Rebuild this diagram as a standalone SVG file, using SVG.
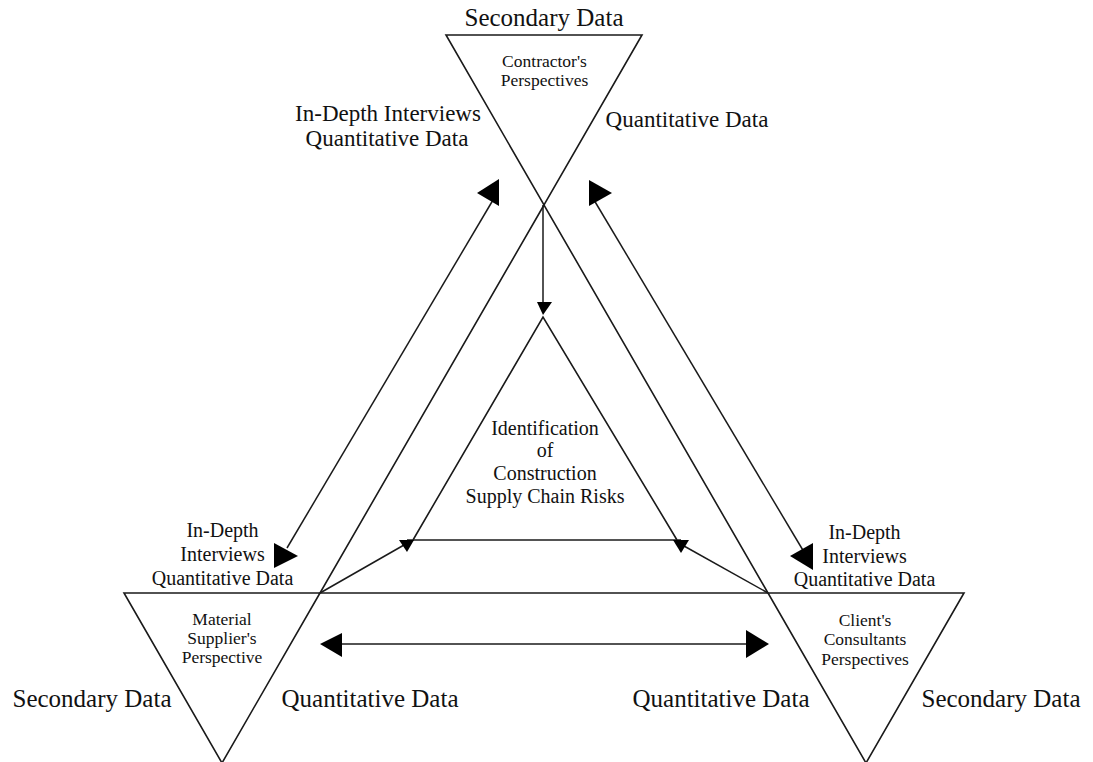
<svg xmlns="http://www.w3.org/2000/svg" width="1093" height="762" viewBox="0 0 1093 762">
  <style>
    .edge { fill: none; stroke: #1a1a1a; stroke-width: 1.6; stroke-linejoin: miter; }
    .conn { fill: none; stroke: #1a1a1a; stroke-width: 1.5; }
    .head { fill: #000; stroke: none; }
    text { font-family: "Liberation Serif", "Times New Roman", serif; fill: #111; text-anchor: middle; }
    .big { font-size: 25px; }
    .mid { font-size: 23px; }
    .core { font-size: 20px; }
    .small { font-size: 17.5px; }
  </style>
  <rect width="1093" height="762" fill="#fff"/>

  <!-- outer frame formed by the extended triangle sides -->
  <g id="frame">
    <polygon class="edge" points="544,205 320,593 768,593"/>
  </g>

  <!-- contractor node: inverted triangle at the top -->
  <g id="node-contractor">
    <polygon class="edge" points="446,35 642,35 544,205"/>
    <text class="big" x="544" y="26">Secondary Data</text>
    <text class="small" x="544.5" y="67">Contractor's</text>
    <text class="small" x="544.5" y="86">Perspectives</text>
    <text class="mid" x="687" y="127">Quantitative Data</text>
    <text class="mid" x="388" y="121">In-Depth Interviews</text>
    <text class="mid" x="387" y="146">Quantitative Data</text>
  </g>

  <!-- material supplier node: inverted triangle bottom left -->
  <g id="node-supplier">
    <polygon class="edge" points="124,593 320,593 222,763"/>
    <text class="small" x="222" y="625">Material</text>
    <text class="small" x="222" y="644">Supplier's</text>
    <text class="small" x="222" y="663">Perspective</text>
    <text class="big" x="92" y="707">Secondary Data</text>
    <text class="big" x="370" y="707">Quantitative Data</text>
    <text class="core" x="222.5" y="537">In-Depth</text>
    <text class="core" x="222.5" y="561">Interviews</text>
    <text class="core" x="222.5" y="585">Quantitative Data</text>
  </g>

  <!-- client's consultants node: inverted triangle bottom right -->
  <g id="node-client">
    <polygon class="edge" points="768,593 964,593 866,763"/>
    <text class="small" x="865" y="626">Client's</text>
    <text class="small" x="865" y="645">Consultants</text>
    <text class="small" x="865" y="665">Perspectives</text>
    <text class="big" x="721" y="707">Quantitative Data</text>
    <text class="big" x="1001" y="707">Secondary Data</text>
    <text class="core" x="864.5" y="539">In-Depth</text>
    <text class="core" x="864.5" y="563">Interviews</text>
    <text class="core" x="864.5" y="586">Quantitative Data</text>
  </g>

  <!-- central node: identification of supply chain risks -->
  <g id="node-risks">
    <polyline class="edge" points="413,540 543,317 677,540"/>
    <text class="core" x="545" y="435">Identification</text>
    <text class="core" x="545" y="457">of</text>
    <text class="core" x="545" y="480">Construction</text>
    <text class="core" x="545" y="503">Supply Chain Risks</text>
  </g>

  <!-- connectors -->
  <g id="connectors">
    <!-- contractor to centre -->
    <line class="conn" x1="543" y1="205" x2="543" y2="304"/>
    <polygon class="head" points="537,302 552,302 543,315"/>

    <!-- supplier to centre and client to centre, joined by the base -->
    <line class="conn" x1="407" y1="540" x2="681" y2="540"/>
    <line class="conn" x1="320" y1="593" x2="404" y2="545"/>
    <polygon class="head" points="399,540 414,540 407,552"/>
    <line class="conn" x1="768" y1="593" x2="684" y2="546"/>
    <polygon class="head" points="673,540 689,540 681,553"/>

    <!-- contractor to supplier, both ways -->
    <line class="conn" x1="493" y1="200" x2="287" y2="548"/>
    <polygon class="head" points="477,193 499,179 499,206"/>
    <polygon class="head" points="274,543 298,556 274,568"/>

    <!-- contractor to client, both ways -->
    <line class="conn" x1="594" y1="200" x2="804" y2="552"/>
    <polygon class="head" points="589,180 612,193 589,206"/>
    <polygon class="head" points="790,556 813,543 813,570"/>

    <!-- supplier to client, both ways -->
    <line class="conn" x1="340" y1="644" x2="748" y2="644"/>
    <polygon class="head" points="320,644 342,633 342,657"/>
    <polygon class="head" points="769,644 746,630 746,658"/>
  </g>
</svg>
